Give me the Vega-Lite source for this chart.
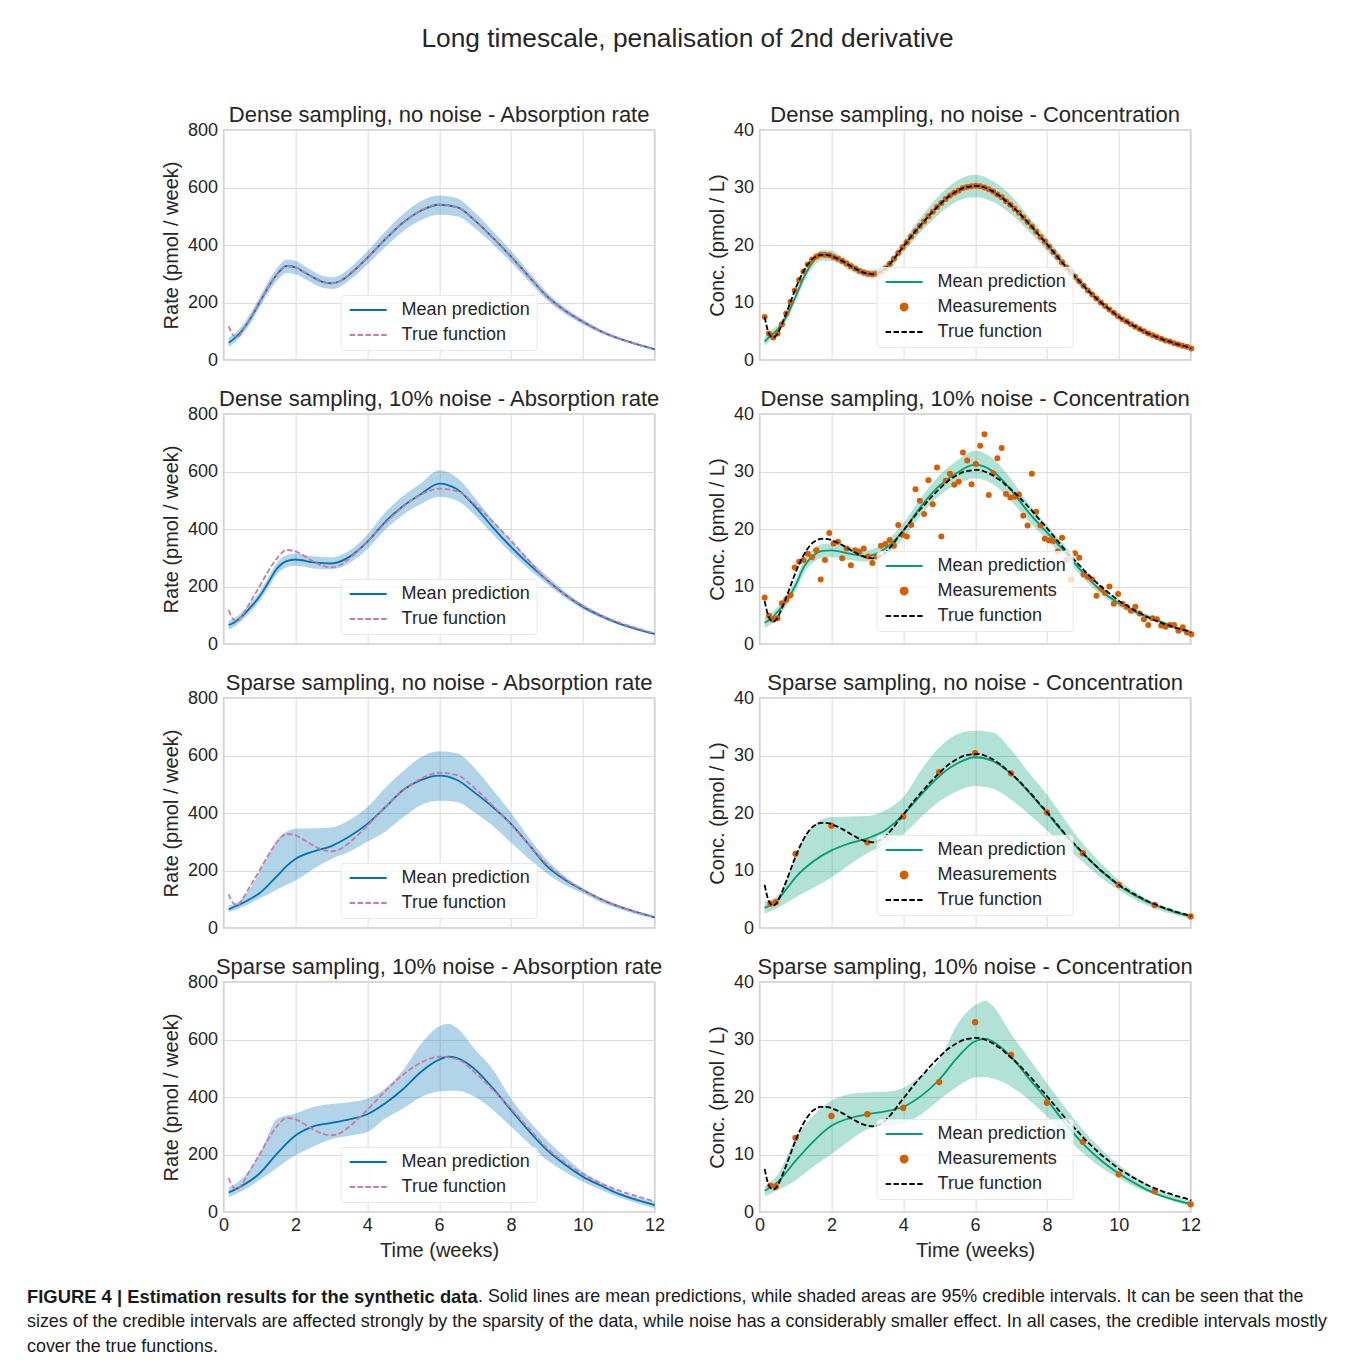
{
  "$schema": "https://vega.github.io/schema/vega-lite/v6.json",
  "padding": {"left": 27, "top": 25, "right": 5, "bottom": 5},
  "title": {"text": "Long timescale, penalisation of 2nd derivative", "fontSize": 26.3, "anchor": "middle", "frame": "bounds", "dx": 5, "offset": 51},
  "datasets": {
    "trueRate": [
      {"t": 0.14, "v": 118}, {"t": 0.2, "v": 100}, {"t": 0.3, "v": 83}, {"t": 0.4, "v": 81}, {"t": 0.5, "v": 96},
      {"t": 0.75, "v": 148}, {"t": 1.0, "v": 200}, {"t": 1.25, "v": 255}, {"t": 1.5, "v": 300}, {"t": 1.75, "v": 327},
      {"t": 2.0, "v": 322}, {"t": 2.25, "v": 305}, {"t": 2.5, "v": 287}, {"t": 2.75, "v": 272}, {"t": 3.0, "v": 267},
      {"t": 3.25, "v": 275}, {"t": 3.5, "v": 297}, {"t": 3.75, "v": 325}, {"t": 4.0, "v": 355}, {"t": 4.5, "v": 420},
      {"t": 5.0, "v": 478}, {"t": 5.5, "v": 520}, {"t": 6.0, "v": 540}, {"t": 6.5, "v": 532}, {"t": 7.0, "v": 485},
      {"t": 7.5, "v": 425}, {"t": 8.0, "v": 360}, {"t": 8.5, "v": 290}, {"t": 9.0, "v": 222}, {"t": 9.5, "v": 172},
      {"t": 10.0, "v": 133}, {"t": 10.5, "v": 100}, {"t": 11.0, "v": 75}, {"t": 11.5, "v": 55}, {"t": 12.0, "v": 37}
    ],
    "rate1": [
      {"t": 0.14, "mean": 60, "lo": 45, "hi": 78}, {"t": 0.3, "mean": 75, "lo": 60, "hi": 92}, {"t": 0.5, "mean": 100, "lo": 85, "hi": 117},
      {"t": 0.75, "mean": 145, "lo": 128, "hi": 163}, {"t": 1.0, "mean": 200, "lo": 182, "hi": 218}, {"t": 1.25, "mean": 255, "lo": 235, "hi": 275},
      {"t": 1.5, "mean": 300, "lo": 278, "hi": 322}, {"t": 1.75, "mean": 327, "lo": 303, "hi": 350}, {"t": 2.0, "mean": 322, "lo": 298, "hi": 345},
      {"t": 2.25, "mean": 305, "lo": 283, "hi": 327}, {"t": 2.5, "mean": 287, "lo": 265, "hi": 308}, {"t": 2.75, "mean": 272, "lo": 251, "hi": 293},
      {"t": 3.0, "mean": 267, "lo": 247, "hi": 288}, {"t": 3.25, "mean": 275, "lo": 255, "hi": 296}, {"t": 3.5, "mean": 297, "lo": 277, "hi": 318},
      {"t": 3.75, "mean": 325, "lo": 303, "hi": 347}, {"t": 4.0, "mean": 355, "lo": 332, "hi": 378}, {"t": 4.5, "mean": 420, "lo": 393, "hi": 447},
      {"t": 5.0, "mean": 478, "lo": 448, "hi": 508}, {"t": 5.5, "mean": 520, "lo": 487, "hi": 553}, {"t": 6.0, "mean": 540, "lo": 505, "hi": 572},
      {"t": 6.5, "mean": 532, "lo": 500, "hi": 563}, {"t": 7.0, "mean": 485, "lo": 458, "hi": 512}, {"t": 7.5, "mean": 425, "lo": 402, "hi": 448},
      {"t": 8.0, "mean": 360, "lo": 340, "hi": 380}, {"t": 8.5, "mean": 290, "lo": 273, "hi": 307}, {"t": 9.0, "mean": 222, "lo": 208, "hi": 236},
      {"t": 9.5, "mean": 172, "lo": 161, "hi": 183}, {"t": 10.0, "mean": 133, "lo": 124, "hi": 142}, {"t": 10.5, "mean": 100, "lo": 93, "hi": 107},
      {"t": 11.0, "mean": 75, "lo": 70, "hi": 80}, {"t": 11.5, "mean": 55, "lo": 51, "hi": 59}, {"t": 12.0, "mean": 37, "lo": 34, "hi": 40}
    ],
    "rate2": [
      {"t": 0.14, "mean": 66, "lo": 50, "hi": 82}, {"t": 0.3, "mean": 75, "lo": 60, "hi": 90}, {"t": 0.5, "mean": 95, "lo": 80, "hi": 110},
      {"t": 0.75, "mean": 128, "lo": 112, "hi": 144}, {"t": 1.0, "mean": 165, "lo": 148, "hi": 182}, {"t": 1.25, "mean": 215, "lo": 197, "hi": 233},
      {"t": 1.5, "mean": 265, "lo": 245, "hi": 285}, {"t": 1.75, "mean": 288, "lo": 267, "hi": 309}, {"t": 2.0, "mean": 294, "lo": 272, "hi": 315},
      {"t": 2.5, "mean": 284, "lo": 263, "hi": 305}, {"t": 3.0, "mean": 280, "lo": 260, "hi": 301}, {"t": 3.5, "mean": 303, "lo": 282, "hi": 325},
      {"t": 4.0, "mean": 355, "lo": 330, "hi": 380}, {"t": 4.5, "mean": 425, "lo": 397, "hi": 458}, {"t": 5.0, "mean": 480, "lo": 450, "hi": 515},
      {"t": 5.5, "mean": 522, "lo": 487, "hi": 560}, {"t": 6.0, "mean": 558, "lo": 512, "hi": 604}, {"t": 6.5, "mean": 538, "lo": 498, "hi": 578},
      {"t": 7.0, "mean": 478, "lo": 448, "hi": 508}, {"t": 7.5, "mean": 405, "lo": 380, "hi": 430}, {"t": 8.0, "mean": 338, "lo": 317, "hi": 359},
      {"t": 8.5, "mean": 278, "lo": 260, "hi": 296}, {"t": 9.0, "mean": 223, "lo": 209, "hi": 237}, {"t": 9.5, "mean": 172, "lo": 161, "hi": 183},
      {"t": 10.0, "mean": 130, "lo": 121, "hi": 139}, {"t": 10.5, "mean": 98, "lo": 91, "hi": 105}, {"t": 11.0, "mean": 72, "lo": 67, "hi": 77},
      {"t": 11.5, "mean": 52, "lo": 48, "hi": 56}, {"t": 12.0, "mean": 35, "lo": 32, "hi": 38}
    ],
    "rate3": [
      {"t": 0.14, "mean": 65, "lo": 55, "hi": 78}, {"t": 0.5, "mean": 85, "lo": 72, "hi": 100}, {"t": 0.75, "mean": 102, "lo": 86, "hi": 140},
      {"t": 1.0, "mean": 121, "lo": 103, "hi": 195}, {"t": 1.25, "mean": 150, "lo": 118, "hi": 255}, {"t": 1.5, "mean": 182, "lo": 135, "hi": 310},
      {"t": 1.75, "mean": 215, "lo": 150, "hi": 335}, {"t": 2.0, "mean": 240, "lo": 165, "hi": 345}, {"t": 2.5, "mean": 266, "lo": 205, "hi": 347},
      {"t": 3.0, "mean": 285, "lo": 240, "hi": 350}, {"t": 3.5, "mean": 318, "lo": 265, "hi": 376}, {"t": 4.0, "mean": 362, "lo": 300, "hi": 420},
      {"t": 4.5, "mean": 420, "lo": 335, "hi": 488}, {"t": 5.0, "mean": 480, "lo": 385, "hi": 545}, {"t": 5.5, "mean": 515, "lo": 428, "hi": 595},
      {"t": 6.0, "mean": 530, "lo": 443, "hi": 615}, {"t": 6.5, "mean": 515, "lo": 438, "hi": 608}, {"t": 7.0, "mean": 470, "lo": 400, "hi": 555},
      {"t": 7.5, "mean": 420, "lo": 355, "hi": 480}, {"t": 8.0, "mean": 362, "lo": 297, "hi": 402}, {"t": 8.5, "mean": 290, "lo": 240, "hi": 315},
      {"t": 9.0, "mean": 215, "lo": 190, "hi": 237}, {"t": 9.5, "mean": 168, "lo": 150, "hi": 180}, {"t": 10.0, "mean": 132, "lo": 121, "hi": 138},
      {"t": 10.5, "mean": 100, "lo": 90, "hi": 106}, {"t": 11.0, "mean": 75, "lo": 67, "hi": 80}, {"t": 11.5, "mean": 55, "lo": 48, "hi": 59},
      {"t": 12.0, "mean": 37, "lo": 33, "hi": 42}
    ],
    "rate4": [
      {"t": 0.14, "mean": 68, "lo": 52, "hi": 86}, {"t": 0.5, "mean": 90, "lo": 72, "hi": 115}, {"t": 1.0, "mean": 134, "lo": 111, "hi": 200},
      {"t": 1.5, "mean": 205, "lo": 155, "hi": 325}, {"t": 2.0, "mean": 266, "lo": 197, "hi": 343}, {"t": 2.5, "mean": 298, "lo": 228, "hi": 365},
      {"t": 3.0, "mean": 310, "lo": 253, "hi": 376}, {"t": 3.5, "mean": 322, "lo": 265, "hi": 382}, {"t": 4.0, "mean": 340, "lo": 278, "hi": 395},
      {"t": 4.5, "mean": 378, "lo": 325, "hi": 430}, {"t": 5.0, "mean": 428, "lo": 360, "hi": 494}, {"t": 5.5, "mean": 488, "lo": 400, "hi": 585},
      {"t": 6.0, "mean": 530, "lo": 419, "hi": 645}, {"t": 6.25, "mean": 540, "lo": 422, "hi": 655}, {"t": 6.5, "mean": 535, "lo": 422, "hi": 640},
      {"t": 7.0, "mean": 496, "lo": 400, "hi": 565}, {"t": 7.5, "mean": 430, "lo": 355, "hi": 495}, {"t": 8.0, "mean": 355, "lo": 297, "hi": 395},
      {"t": 8.5, "mean": 282, "lo": 238, "hi": 318}, {"t": 9.0, "mean": 216, "lo": 181, "hi": 250}, {"t": 9.5, "mean": 165, "lo": 140, "hi": 193},
      {"t": 10.0, "mean": 123, "lo": 105, "hi": 140}, {"t": 10.5, "mean": 92, "lo": 77, "hi": 104}, {"t": 11.0, "mean": 63, "lo": 51, "hi": 72},
      {"t": 11.5, "mean": 42, "lo": 31, "hi": 52}, {"t": 12.0, "mean": 24, "lo": 13, "hi": 36}
    ],
    "conc1": [
      {"t": 0.14, "mean": 3.2, "lo": 2.5, "hi": 4.0}, {"t": 0.3, "mean": 4.2, "lo": 3.4, "hi": 5.0}, {"t": 0.5, "mean": 5.3, "lo": 4.5, "hi": 6.1},
      {"t": 0.75, "mean": 7.6, "lo": 6.8, "hi": 8.4}, {"t": 1.0, "mean": 11.0, "lo": 10.2, "hi": 11.8}, {"t": 1.25, "mean": 14.6, "lo": 13.8, "hi": 15.4},
      {"t": 1.5, "mean": 17.2, "lo": 16.3, "hi": 18.1}, {"t": 1.75, "mean": 18.2, "lo": 17.3, "hi": 19.1}, {"t": 2.0, "mean": 18.1, "lo": 17.2, "hi": 19.0},
      {"t": 2.25, "mean": 17.4, "lo": 16.6, "hi": 18.2}, {"t": 2.5, "mean": 16.4, "lo": 15.6, "hi": 17.2}, {"t": 2.75, "mean": 15.6, "lo": 14.9, "hi": 16.3},
      {"t": 3.0, "mean": 15.0, "lo": 14.3, "hi": 15.7}, {"t": 3.25, "mean": 15.1, "lo": 14.4, "hi": 15.8}, {"t": 3.5, "mean": 15.9, "lo": 15.1, "hi": 16.7},
      {"t": 3.75, "mean": 17.6, "lo": 16.7, "hi": 18.5}, {"t": 4.0, "mean": 19.7, "lo": 18.7, "hi": 20.7}, {"t": 4.5, "mean": 23.6, "lo": 22.3, "hi": 24.9},
      {"t": 5.0, "mean": 27.0, "lo": 25.4, "hi": 28.6}, {"t": 5.5, "mean": 29.4, "lo": 27.6, "hi": 31.2}, {"t": 6.0, "mean": 30.3, "lo": 28.3, "hi": 32.2},
      {"t": 6.5, "mean": 29.3, "lo": 27.5, "hi": 31.1}, {"t": 7.0, "mean": 27.0, "lo": 25.4, "hi": 28.6}, {"t": 7.5, "mean": 23.6, "lo": 22.3, "hi": 24.9},
      {"t": 8.0, "mean": 20.1, "lo": 19.0, "hi": 21.2}, {"t": 8.5, "mean": 16.4, "lo": 15.5, "hi": 17.3}, {"t": 9.0, "mean": 13.0, "lo": 12.3, "hi": 13.7},
      {"t": 9.5, "mean": 10.0, "lo": 9.5, "hi": 10.5}, {"t": 10.0, "mean": 7.4, "lo": 7.0, "hi": 7.8}, {"t": 10.5, "mean": 5.5, "lo": 5.2, "hi": 5.8},
      {"t": 11.0, "mean": 4.0, "lo": 3.7, "hi": 4.3}, {"t": 11.5, "mean": 2.9, "lo": 2.7, "hi": 3.1}, {"t": 12.0, "mean": 2.0, "lo": 1.8, "hi": 2.2}
    ],
    "conc2": [
      {"t": 0.14, "mean": 3.7, "lo": 2.8, "hi": 4.7}, {"t": 0.3, "mean": 4.3, "lo": 3.4, "hi": 5.2}, {"t": 0.5, "mean": 5.6, "lo": 4.7, "hi": 6.5},
      {"t": 0.75, "mean": 7.5, "lo": 6.6, "hi": 8.4}, {"t": 1.0, "mean": 10.2, "lo": 9.2, "hi": 11.2}, {"t": 1.25, "mean": 13.6, "lo": 12.5, "hi": 14.7},
      {"t": 1.5, "mean": 15.4, "lo": 14.2, "hi": 16.6}, {"t": 1.75, "mean": 16.2, "lo": 15.0, "hi": 17.4}, {"t": 2.0, "mean": 16.3, "lo": 15.1, "hi": 17.5},
      {"t": 2.5, "mean": 15.7, "lo": 14.6, "hi": 16.9}, {"t": 3.0, "mean": 15.3, "lo": 14.3, "hi": 16.4}, {"t": 3.5, "mean": 16.6, "lo": 15.5, "hi": 17.8},
      {"t": 4.0, "mean": 19.7, "lo": 18.4, "hi": 21.0}, {"t": 4.5, "mean": 24.0, "lo": 22.5, "hi": 25.5}, {"t": 5.0, "mean": 27.5, "lo": 25.8, "hi": 29.3},
      {"t": 5.5, "mean": 29.8, "lo": 27.8, "hi": 31.9}, {"t": 6.0, "mean": 31.2, "lo": 28.8, "hi": 33.6}, {"t": 6.5, "mean": 30.0, "lo": 27.8, "hi": 32.2},
      {"t": 7.0, "mean": 26.8, "lo": 24.9, "hi": 28.7}, {"t": 7.5, "mean": 22.8, "lo": 21.3, "hi": 24.3}, {"t": 8.0, "mean": 19.4, "lo": 18.1, "hi": 20.7},
      {"t": 8.5, "mean": 16.0, "lo": 14.9, "hi": 17.1}, {"t": 9.0, "mean": 12.4, "lo": 11.5, "hi": 13.3}, {"t": 9.5, "mean": 9.3, "lo": 8.6, "hi": 10.0},
      {"t": 10.0, "mean": 7.1, "lo": 6.5, "hi": 7.7}, {"t": 10.5, "mean": 5.5, "lo": 5.0, "hi": 6.0}, {"t": 11.0, "mean": 4.3, "lo": 3.9, "hi": 4.7},
      {"t": 11.5, "mean": 3.0, "lo": 2.6, "hi": 3.4}, {"t": 12.0, "mean": 1.9, "lo": 1.5, "hi": 2.3}
    ],
    "conc3": [
      {"t": 0.14, "mean": 3.5, "lo": 2.5, "hi": 4.6}, {"t": 0.5, "mean": 4.9, "lo": 3.5, "hi": 5.6}, {"t": 0.75, "mean": 6.8, "lo": 4.4, "hi": 8.5},
      {"t": 1.0, "mean": 8.8, "lo": 5.3, "hi": 12.5}, {"t": 1.5, "mean": 11.6, "lo": 7.0, "hi": 17.8}, {"t": 2.0, "mean": 13.5, "lo": 8.8, "hi": 19.3},
      {"t": 2.5, "mean": 14.7, "lo": 11.0, "hi": 19.4}, {"t": 3.0, "mean": 15.6, "lo": 13.0, "hi": 19.5}, {"t": 3.5, "mean": 17.0, "lo": 14.5, "hi": 20.5},
      {"t": 4.0, "mean": 19.7, "lo": 16.3, "hi": 22.8}, {"t": 4.5, "mean": 23.2, "lo": 19.3, "hi": 27.5}, {"t": 5.0, "mean": 26.4, "lo": 22.0, "hi": 31.4},
      {"t": 5.5, "mean": 28.6, "lo": 23.8, "hi": 33.7}, {"t": 6.0, "mean": 29.7, "lo": 24.7, "hi": 34.3}, {"t": 6.5, "mean": 29.0, "lo": 24.2, "hi": 34.0},
      {"t": 7.0, "mean": 26.8, "lo": 22.3, "hi": 31.0}, {"t": 7.5, "mean": 23.6, "lo": 19.8, "hi": 27.0}, {"t": 8.0, "mean": 20.0, "lo": 17.0, "hi": 23.2},
      {"t": 8.5, "mean": 16.3, "lo": 14.1, "hi": 18.8}, {"t": 9.0, "mean": 13.0, "lo": 11.5, "hi": 14.7}, {"t": 9.5, "mean": 10.0, "lo": 8.8, "hi": 11.3},
      {"t": 10.0, "mean": 7.4, "lo": 6.6, "hi": 8.3}, {"t": 10.5, "mean": 5.5, "lo": 4.8, "hi": 6.1}, {"t": 11.0, "mean": 4.0, "lo": 3.4, "hi": 4.4},
      {"t": 11.5, "mean": 2.9, "lo": 2.4, "hi": 3.3}, {"t": 12.0, "mean": 2.0, "lo": 1.7, "hi": 2.3}
    ],
    "conc4": [
      {"t": 0.14, "mean": 3.7, "lo": 2.7, "hi": 4.4}, {"t": 0.5, "mean": 5.2, "lo": 3.8, "hi": 6.5}, {"t": 1.0, "mean": 8.9, "lo": 5.5, "hi": 12.8},
      {"t": 1.5, "mean": 12.3, "lo": 7.9, "hi": 16.8}, {"t": 2.0, "mean": 15.0, "lo": 10.1, "hi": 19.4}, {"t": 2.5, "mean": 16.3, "lo": 12.4, "hi": 20.5},
      {"t": 3.0, "mean": 17.0, "lo": 14.4, "hi": 20.8}, {"t": 3.5, "mean": 17.5, "lo": 15.0, "hi": 20.9}, {"t": 4.0, "mean": 18.3, "lo": 15.4, "hi": 21.6},
      {"t": 4.5, "mean": 20.2, "lo": 17.0, "hi": 23.8}, {"t": 5.0, "mean": 23.0, "lo": 19.5, "hi": 26.4}, {"t": 5.5, "mean": 26.8, "lo": 21.8, "hi": 32.6},
      {"t": 6.0, "mean": 29.7, "lo": 23.4, "hi": 36.0}, {"t": 6.3, "mean": 30.1, "lo": 23.5, "hi": 36.7}, {"t": 6.5, "mean": 29.6, "lo": 23.2, "hi": 35.8},
      {"t": 7.0, "mean": 27.0, "lo": 21.8, "hi": 31.0}, {"t": 7.5, "mean": 23.2, "lo": 19.5, "hi": 26.7}, {"t": 8.0, "mean": 19.5, "lo": 16.6, "hi": 22.4},
      {"t": 8.5, "mean": 15.5, "lo": 13.3, "hi": 18.2}, {"t": 9.0, "mean": 11.9, "lo": 10.2, "hi": 14.3}, {"t": 9.5, "mean": 9.0, "lo": 7.8, "hi": 11.0},
      {"t": 10.0, "mean": 6.7, "lo": 5.9, "hi": 8.2}, {"t": 10.5, "mean": 4.8, "lo": 4.2, "hi": 5.9}, {"t": 11.0, "mean": 3.25, "lo": 3.0, "hi": 4.1},
      {"t": 11.5, "mean": 2.2, "lo": 1.9, "hi": 2.9}, {"t": 12.0, "mean": 1.4, "lo": 1.0, "hi": 2.0}
    ],
    "sparse": [
      {"t": 0.3, "clean": 4.2, "noisy": 4.6}, {"t": 0.45, "clean": 4.5, "noisy": 4.4}, {"t": 1, "clean": 12.9, "noisy": 12.9},
      {"t": 2, "clean": 17.8, "noisy": 16.7}, {"t": 3, "clean": 14.9, "noisy": 17.0}, {"t": 4, "clean": 19.4, "noisy": 18.1},
      {"t": 5, "clean": 27.1, "noisy": 22.6}, {"t": 6, "clean": 30.4, "noisy": 33.0}, {"t": 7, "clean": 26.9, "noisy": 27.3},
      {"t": 8, "clean": 20.1, "noisy": 19.0}, {"t": 9, "clean": 13.0, "noisy": 12.2}, {"t": 10, "clean": 7.5, "noisy": 6.55},
      {"t": 11, "clean": 4.0, "noisy": 3.65}, {"t": 12, "clean": 2.0, "noisy": 1.33}
    ],
    "dense": [
      {"t": 0.14, "truth": 7.5, "noisy": 8.1}, {"t": 0.26, "truth": 4.6, "noisy": 4.9}, {"t": 0.38, "truth": 3.9, "noisy": 4.2}, {"t": 0.50, "truth": 4.6, "noisy": 4.5},
      {"t": 0.62, "truth": 6.2, "noisy": 7.1}, {"t": 0.74, "truth": 8.1, "noisy": 7.7}, {"t": 0.86, "truth": 10.1, "noisy": 8.5}, {"t": 0.98, "truth": 12.1, "noisy": 13.3},
      {"t": 1.10, "truth": 13.9, "noisy": 14.3}, {"t": 1.22, "truth": 15.4, "noisy": 14.6}, {"t": 1.34, "truth": 16.6, "noisy": 15.7}, {"t": 1.46, "truth": 17.5, "noisy": 15.1},
      {"t": 1.58, "truth": 18.0, "noisy": 16.3}, {"t": 1.70, "truth": 18.3, "noisy": 11.2}, {"t": 1.82, "truth": 18.3, "noisy": 14.6}, {"t": 1.94, "truth": 18.2, "noisy": 19.3},
      {"t": 2.06, "truth": 17.9, "noisy": 17.5}, {"t": 2.18, "truth": 17.6, "noisy": 17.8}, {"t": 2.30, "truth": 17.2, "noisy": 14.9}, {"t": 2.42, "truth": 16.8, "noisy": 16.6},
      {"t": 2.54, "truth": 16.3, "noisy": 13.7}, {"t": 2.66, "truth": 15.9, "noisy": 16.3}, {"t": 2.78, "truth": 15.5, "noisy": 16.1}, {"t": 2.90, "truth": 15.2, "noisy": 16.6},
      {"t": 3.02, "truth": 15.0, "noisy": 15.2}, {"t": 3.14, "truth": 14.9, "noisy": 14.1}, {"t": 3.26, "truth": 15.0, "noisy": 15.2}, {"t": 3.38, "truth": 15.4, "noisy": 17.1},
      {"t": 3.50, "truth": 15.9, "noisy": 17.4}, {"t": 3.62, "truth": 16.7, "noisy": 18.1}, {"t": 3.74, "truth": 17.6, "noisy": 17.1}, {"t": 3.86, "truth": 18.6, "noisy": 20.7},
      {"t": 3.98, "truth": 19.6, "noisy": 19.0}, {"t": 4.10, "truth": 20.5, "noisy": 18.7}, {"t": 4.22, "truth": 21.5, "noisy": 20.7}, {"t": 4.34, "truth": 22.4, "noisy": 26.9},
      {"t": 4.46, "truth": 23.3, "noisy": 24.9}, {"t": 4.58, "truth": 24.1, "noisy": 22.6}, {"t": 4.70, "truth": 25.0, "noisy": 28.5}, {"t": 4.82, "truth": 25.8, "noisy": 24.3},
      {"t": 4.94, "truth": 26.6, "noisy": 30.7}, {"t": 5.06, "truth": 27.3, "noisy": 18.7}, {"t": 5.18, "truth": 28.0, "noisy": 28.4}, {"t": 5.30, "truth": 28.6, "noisy": 29.6},
      {"t": 5.42, "truth": 29.1, "noisy": 27.7}, {"t": 5.54, "truth": 29.5, "noisy": 28.2}, {"t": 5.66, "truth": 29.9, "noisy": 33.3}, {"t": 5.78, "truth": 30.1, "noisy": 31.9},
      {"t": 5.90, "truth": 30.2, "noisy": 27.8}, {"t": 6.02, "truth": 30.3, "noisy": 31.3}, {"t": 6.14, "truth": 30.2, "noisy": 34.5}, {"t": 6.26, "truth": 30.0, "noisy": 36.5},
      {"t": 6.38, "truth": 29.7, "noisy": 25.9}, {"t": 6.50, "truth": 29.3, "noisy": 29.7}, {"t": 6.62, "truth": 28.8, "noisy": 32.3}, {"t": 6.74, "truth": 28.3, "noisy": 34.1},
      {"t": 6.86, "truth": 27.6, "noisy": 26.1}, {"t": 6.98, "truth": 27.0, "noisy": 25.5}, {"t": 7.10, "truth": 26.3, "noisy": 25.6}, {"t": 7.22, "truth": 25.6, "noisy": 26.0},
      {"t": 7.34, "truth": 24.8, "noisy": 22.3}, {"t": 7.46, "truth": 24.0, "noisy": 20.6}, {"t": 7.58, "truth": 23.2, "noisy": 29.6}, {"t": 7.70, "truth": 22.3, "noisy": 23.0},
      {"t": 7.82, "truth": 21.4, "noisy": 20.6}, {"t": 7.94, "truth": 20.6, "noisy": 18.3}, {"t": 8.06, "truth": 19.7, "noisy": 18.0}, {"t": 8.18, "truth": 18.8, "noisy": 17.9},
      {"t": 8.30, "truth": 17.9, "noisy": 16.1}, {"t": 8.42, "truth": 17.0, "noisy": 18.5}, {"t": 8.54, "truth": 16.1, "noisy": 14.6}, {"t": 8.66, "truth": 15.3, "noisy": 11.2},
      {"t": 8.78, "truth": 14.5, "noisy": 15.8}, {"t": 8.90, "truth": 13.7, "noisy": 15.0}, {"t": 9.02, "truth": 12.9, "noisy": 12.1}, {"t": 9.14, "truth": 12.1, "noisy": 11.7},
      {"t": 9.26, "truth": 11.4, "noisy": 11.2}, {"t": 9.38, "truth": 10.7, "noisy": 8.4}, {"t": 9.50, "truth": 10.0, "noisy": 9.7}, {"t": 9.62, "truth": 9.4, "noisy": 8.9},
      {"t": 9.74, "truth": 8.8, "noisy": 10.0}, {"t": 9.86, "truth": 8.2, "noisy": 7.0}, {"t": 9.98, "truth": 7.6, "noisy": 8.7}, {"t": 10.10, "truth": 7.1, "noisy": 7.0},
      {"t": 10.22, "truth": 6.7, "noisy": 6.5}, {"t": 10.34, "truth": 6.2, "noisy": 5.8}, {"t": 10.46, "truth": 5.8, "noisy": 6.5}, {"t": 10.58, "truth": 5.4, "noisy": 5.3},
      {"t": 10.70, "truth": 5.0, "noisy": 4.3}, {"t": 10.82, "truth": 4.6, "noisy": 3.3}, {"t": 10.94, "truth": 4.3, "noisy": 4.5}, {"t": 11.06, "truth": 4.0, "noisy": 4.3},
      {"t": 11.18, "truth": 3.7, "noisy": 3.2}, {"t": 11.30, "truth": 3.4, "noisy": 3.0}, {"t": 11.42, "truth": 3.2, "noisy": 3.3}, {"t": 11.54, "truth": 2.9, "noisy": 3.3},
      {"t": 11.66, "truth": 2.7, "noisy": 2.3}, {"t": 11.78, "truth": 2.5, "noisy": 2.9}, {"t": 11.90, "truth": 2.3, "noisy": 2.0}, {"t": 12.02, "truth": 2.0, "noisy": 1.7}
    ]
  },
  "vconcat": [
    {
      "columns": 2,
      "spacing": {"row": 54, "column": 105},
      "bounds": "flush",
      "resolve": {"scale": {"x": "independent", "y": "independent", "color": "independent"}, "legend": {"color": "independent"}, "axis": {"x": "independent", "y": "independent"}},
      "concat": [
        {
          "width": 431, "height": 230,
          "title": {"text": "Dense sampling, no noise - Absorption rate", "anchor": "middle", "frame": "group", "offset": -6},
          "encoding": {"x": {"field": "t", "type": "quantitative", "scale": {"domain": [0, 12], "nice": false}, "axis": {"values": [0, 2, 4, 6, 8, 10, 12], "labels": false, "title": null}}},
          "layer": [
            {"data": {"name": "rate1"}, "mark": {"type": "area", "color": "#0072B2", "opacity": 0.3, "interpolate": "monotone"},
             "encoding": {"y": {"field": "lo", "type": "quantitative", "title": "Rate (pmol / week)", "scale": {"domain": [0, 800], "nice": false}, "axis": {"values": [0, 200, 400, 600, 800]}}, "y2": {"field": "hi"}}},
            {"data": {"name": "rate1"}, "mark": {"type": "line", "strokeWidth": 1.8, "interpolate": "monotone"},
             "encoding": {"y": {"field": "mean", "type": "quantitative", "title": "Rate (pmol / week)"},
               "color": {"datum": "Mean prediction", "scale": {"domain": ["Mean prediction", "True function"], "range": ["#0072B2", "#CC79A7"]},
                 "legend": {"title": null, "orient": "none", "legendX": 117, "legendY": 165, "symbolSize": 100, "labelOffset": 37,
                   "encode": {"symbols": {"update": {"shape": {"value": "M-1.2,0L6.2,0"}, "size": {"value": 100}, "fill": {"value": "transparent"},
                     "stroke": {"signal": "datum.value === 'Mean prediction' ? '#0072B2' : '#CC79A7'"},
                     "strokeDash": {"signal": "datum.value === 'True function' ? [5.5, 2.4] : [1, 0]"},
                     "strokeWidth": {"value": 1.8}, "opacity": {"value": 1}}}}}}}},
            {"data": {"name": "trueRate"}, "mark": {"type": "line", "strokeWidth": 1.8, "strokeDash": [5.5, 2.4], "interpolate": "monotone"},
             "encoding": {"y": {"field": "v", "type": "quantitative", "title": "Rate (pmol / week)"}, "color": {"datum": "True function"}}}
          ]
        },
        {
          "width": 431, "height": 230,
          "title": {"text": "Dense sampling, no noise - Concentration", "anchor": "middle", "frame": "group", "offset": -6},
          "encoding": {"x": {"field": "t", "type": "quantitative", "scale": {"domain": [0, 12], "nice": false}, "axis": {"values": [0, 2, 4, 6, 8, 10, 12], "labels": false, "title": null}}},
          "layer": [
            {"data": {"name": "conc1"}, "mark": {"type": "area", "color": "#009E73", "opacity": 0.3, "interpolate": "monotone"},
             "encoding": {"y": {"field": "lo", "type": "quantitative", "title": "Conc. (pmol / L)", "scale": {"domain": [0, 40], "nice": false}, "axis": {"values": [0, 10, 20, 30, 40]}}, "y2": {"field": "hi"}}},
            {"data": {"name": "conc1"}, "mark": {"type": "line", "strokeWidth": 1.8, "interpolate": "monotone"},
             "encoding": {"y": {"field": "mean", "type": "quantitative", "title": "Conc. (pmol / L)"},
               "color": {"datum": "Mean prediction", "scale": {"domain": ["Mean prediction", "Measurements", "True function"], "range": ["#009E73", "#D55E00", "#000000"]},
                 "legend": {"title": null, "orient": "none", "legendX": 117, "legendY": 137, "symbolSize": 100, "labelOffset": 37,
                   "encode": {"symbols": {"update": {
                     "shape": {"signal": "datum.value === 'Measurements' ? 'M1.8,0A0.7,0.7 0 1,1 3.2,0A0.7,0.7 0 1,1 1.8,0Z' : 'M-1.2,0L6.2,0'"},
                     "size": {"value": 100},
                     "fill": {"signal": "datum.value === 'Measurements' ? '#D55E00' : 'transparent'"},
                     "stroke": {"signal": "datum.value === 'Mean prediction' ? '#009E73' : datum.value === 'True function' ? '#000000' : 'transparent'"},
                     "strokeDash": {"signal": "datum.value === 'True function' ? [5.5, 2.4] : [1, 0]"},
                     "strokeWidth": {"value": 1.8}, "opacity": {"value": 1}}}}}}}},
            {"data": {"name": "dense"}, "mark": {"type": "point", "filled": true, "size": 36, "opacity": 1},
             "encoding": {"y": {"field": "truth", "type": "quantitative", "title": "Conc. (pmol / L)"}, "color": {"datum": "Measurements"}}},
            {"data": {"name": "dense"}, "mark": {"type": "line", "strokeWidth": 1.8, "strokeDash": [5.5, 2.4], "interpolate": "monotone"},
             "encoding": {"y": {"field": "truth", "type": "quantitative", "title": "Conc. (pmol / L)"}, "color": {"datum": "True function"}}}
          ]
        },
        {
          "width": 431, "height": 230,
          "title": {"text": "Dense sampling, 10% noise - Absorption rate", "anchor": "middle", "frame": "group", "offset": -6},
          "encoding": {"x": {"field": "t", "type": "quantitative", "scale": {"domain": [0, 12], "nice": false}, "axis": {"values": [0, 2, 4, 6, 8, 10, 12], "labels": false, "title": null}}},
          "layer": [
            {"data": {"name": "rate2"}, "mark": {"type": "area", "color": "#0072B2", "opacity": 0.3, "interpolate": "monotone"},
             "encoding": {"y": {"field": "lo", "type": "quantitative", "title": "Rate (pmol / week)", "scale": {"domain": [0, 800], "nice": false}, "axis": {"values": [0, 200, 400, 600, 800]}}, "y2": {"field": "hi"}}},
            {"data": {"name": "rate2"}, "mark": {"type": "line", "strokeWidth": 1.8, "interpolate": "monotone"},
             "encoding": {"y": {"field": "mean", "type": "quantitative", "title": "Rate (pmol / week)"},
               "color": {"datum": "Mean prediction", "scale": {"domain": ["Mean prediction", "True function"], "range": ["#0072B2", "#CC79A7"]},
                 "legend": {"title": null, "orient": "none", "legendX": 117, "legendY": 165, "symbolSize": 100, "labelOffset": 37,
                   "encode": {"symbols": {"update": {"shape": {"value": "M-1.2,0L6.2,0"}, "size": {"value": 100}, "fill": {"value": "transparent"},
                     "stroke": {"signal": "datum.value === 'Mean prediction' ? '#0072B2' : '#CC79A7'"},
                     "strokeDash": {"signal": "datum.value === 'True function' ? [5.5, 2.4] : [1, 0]"},
                     "strokeWidth": {"value": 1.8}, "opacity": {"value": 1}}}}}}}},
            {"data": {"name": "trueRate"}, "mark": {"type": "line", "strokeWidth": 1.8, "strokeDash": [5.5, 2.4], "interpolate": "monotone"},
             "encoding": {"y": {"field": "v", "type": "quantitative", "title": "Rate (pmol / week)"}, "color": {"datum": "True function"}}}
          ]
        },
        {
          "width": 431, "height": 230,
          "title": {"text": "Dense sampling, 10% noise - Concentration", "anchor": "middle", "frame": "group", "offset": -6},
          "encoding": {"x": {"field": "t", "type": "quantitative", "scale": {"domain": [0, 12], "nice": false}, "axis": {"values": [0, 2, 4, 6, 8, 10, 12], "labels": false, "title": null}}},
          "layer": [
            {"data": {"name": "conc2"}, "mark": {"type": "area", "color": "#009E73", "opacity": 0.3, "interpolate": "monotone"},
             "encoding": {"y": {"field": "lo", "type": "quantitative", "title": "Conc. (pmol / L)", "scale": {"domain": [0, 40], "nice": false}, "axis": {"values": [0, 10, 20, 30, 40]}}, "y2": {"field": "hi"}}},
            {"data": {"name": "conc2"}, "mark": {"type": "line", "strokeWidth": 1.8, "interpolate": "monotone"},
             "encoding": {"y": {"field": "mean", "type": "quantitative", "title": "Conc. (pmol / L)"},
               "color": {"datum": "Mean prediction", "scale": {"domain": ["Mean prediction", "Measurements", "True function"], "range": ["#009E73", "#D55E00", "#000000"]},
                 "legend": {"title": null, "orient": "none", "legendX": 117, "legendY": 137, "symbolSize": 100, "labelOffset": 37,
                   "encode": {"symbols": {"update": {
                     "shape": {"signal": "datum.value === 'Measurements' ? 'M1.8,0A0.7,0.7 0 1,1 3.2,0A0.7,0.7 0 1,1 1.8,0Z' : 'M-1.2,0L6.2,0'"},
                     "size": {"value": 100},
                     "fill": {"signal": "datum.value === 'Measurements' ? '#D55E00' : 'transparent'"},
                     "stroke": {"signal": "datum.value === 'Mean prediction' ? '#009E73' : datum.value === 'True function' ? '#000000' : 'transparent'"},
                     "strokeDash": {"signal": "datum.value === 'True function' ? [5.5, 2.4] : [1, 0]"},
                     "strokeWidth": {"value": 1.8}, "opacity": {"value": 1}}}}}}}},
            {"data": {"name": "dense"}, "mark": {"type": "point", "filled": true, "size": 36, "opacity": 1},
             "encoding": {"y": {"field": "noisy", "type": "quantitative", "title": "Conc. (pmol / L)"}, "color": {"datum": "Measurements"}}},
            {"data": {"name": "dense"}, "mark": {"type": "line", "strokeWidth": 1.8, "strokeDash": [5.5, 2.4], "interpolate": "monotone"},
             "encoding": {"y": {"field": "truth", "type": "quantitative", "title": "Conc. (pmol / L)"}, "color": {"datum": "True function"}}}
          ]
        },
        {
          "width": 431, "height": 230,
          "title": {"text": "Sparse sampling, no noise - Absorption rate", "anchor": "middle", "frame": "group", "offset": -6},
          "encoding": {"x": {"field": "t", "type": "quantitative", "scale": {"domain": [0, 12], "nice": false}, "axis": {"values": [0, 2, 4, 6, 8, 10, 12], "labels": false, "title": null}}},
          "layer": [
            {"data": {"name": "rate3"}, "mark": {"type": "area", "color": "#0072B2", "opacity": 0.3, "interpolate": "monotone"},
             "encoding": {"y": {"field": "lo", "type": "quantitative", "title": "Rate (pmol / week)", "scale": {"domain": [0, 800], "nice": false}, "axis": {"values": [0, 200, 400, 600, 800]}}, "y2": {"field": "hi"}}},
            {"data": {"name": "rate3"}, "mark": {"type": "line", "strokeWidth": 1.8, "interpolate": "monotone"},
             "encoding": {"y": {"field": "mean", "type": "quantitative", "title": "Rate (pmol / week)"},
               "color": {"datum": "Mean prediction", "scale": {"domain": ["Mean prediction", "True function"], "range": ["#0072B2", "#CC79A7"]},
                 "legend": {"title": null, "orient": "none", "legendX": 117, "legendY": 165, "symbolSize": 100, "labelOffset": 37,
                   "encode": {"symbols": {"update": {"shape": {"value": "M-1.2,0L6.2,0"}, "size": {"value": 100}, "fill": {"value": "transparent"},
                     "stroke": {"signal": "datum.value === 'Mean prediction' ? '#0072B2' : '#CC79A7'"},
                     "strokeDash": {"signal": "datum.value === 'True function' ? [5.5, 2.4] : [1, 0]"},
                     "strokeWidth": {"value": 1.8}, "opacity": {"value": 1}}}}}}}},
            {"data": {"name": "trueRate"}, "mark": {"type": "line", "strokeWidth": 1.8, "strokeDash": [5.5, 2.4], "interpolate": "monotone"},
             "encoding": {"y": {"field": "v", "type": "quantitative", "title": "Rate (pmol / week)"}, "color": {"datum": "True function"}}}
          ]
        },
        {
          "width": 431, "height": 230,
          "title": {"text": "Sparse sampling, no noise - Concentration", "anchor": "middle", "frame": "group", "offset": -6},
          "encoding": {"x": {"field": "t", "type": "quantitative", "scale": {"domain": [0, 12], "nice": false}, "axis": {"values": [0, 2, 4, 6, 8, 10, 12], "labels": false, "title": null}}},
          "layer": [
            {"data": {"name": "conc3"}, "mark": {"type": "area", "color": "#009E73", "opacity": 0.3, "interpolate": "monotone"},
             "encoding": {"y": {"field": "lo", "type": "quantitative", "title": "Conc. (pmol / L)", "scale": {"domain": [0, 40], "nice": false}, "axis": {"values": [0, 10, 20, 30, 40]}}, "y2": {"field": "hi"}}},
            {"data": {"name": "conc3"}, "mark": {"type": "line", "strokeWidth": 1.8, "interpolate": "monotone"},
             "encoding": {"y": {"field": "mean", "type": "quantitative", "title": "Conc. (pmol / L)"},
               "color": {"datum": "Mean prediction", "scale": {"domain": ["Mean prediction", "Measurements", "True function"], "range": ["#009E73", "#D55E00", "#000000"]},
                 "legend": {"title": null, "orient": "none", "legendX": 117, "legendY": 137, "symbolSize": 100, "labelOffset": 37,
                   "encode": {"symbols": {"update": {
                     "shape": {"signal": "datum.value === 'Measurements' ? 'M1.8,0A0.7,0.7 0 1,1 3.2,0A0.7,0.7 0 1,1 1.8,0Z' : 'M-1.2,0L6.2,0'"},
                     "size": {"value": 100},
                     "fill": {"signal": "datum.value === 'Measurements' ? '#D55E00' : 'transparent'"},
                     "stroke": {"signal": "datum.value === 'Mean prediction' ? '#009E73' : datum.value === 'True function' ? '#000000' : 'transparent'"},
                     "strokeDash": {"signal": "datum.value === 'True function' ? [5.5, 2.4] : [1, 0]"},
                     "strokeWidth": {"value": 1.8}, "opacity": {"value": 1}}}}}}}},
            {"data": {"name": "sparse"}, "mark": {"type": "point", "filled": true, "size": 40, "opacity": 1},
             "encoding": {"y": {"field": "clean", "type": "quantitative", "title": "Conc. (pmol / L)"}, "color": {"datum": "Measurements"}}},
            {"data": {"name": "dense"}, "mark": {"type": "line", "strokeWidth": 1.8, "strokeDash": [5.5, 2.4], "interpolate": "monotone"},
             "encoding": {"y": {"field": "truth", "type": "quantitative", "title": "Conc. (pmol / L)"}, "color": {"datum": "True function"}}}
          ]
        },
        {
          "width": 431, "height": 230,
          "title": {"text": "Sparse sampling, 10% noise - Absorption rate", "anchor": "middle", "frame": "group", "offset": -6},
          "encoding": {"x": {"field": "t", "type": "quantitative", "scale": {"domain": [0, 12], "nice": false}, "axis": {"values": [0, 2, 4, 6, 8, 10, 12], "title": "Time (weeks)", "labelFlush": false, "labelPadding": 4, "titlePadding": 6}}},
          "layer": [
            {"data": {"name": "rate4"}, "mark": {"type": "area", "color": "#0072B2", "opacity": 0.3, "interpolate": "monotone"},
             "encoding": {"y": {"field": "lo", "type": "quantitative", "title": "Rate (pmol / week)", "scale": {"domain": [0, 800], "nice": false}, "axis": {"values": [0, 200, 400, 600, 800]}}, "y2": {"field": "hi"}}},
            {"data": {"name": "rate4"}, "mark": {"type": "line", "strokeWidth": 1.8, "interpolate": "monotone"},
             "encoding": {"y": {"field": "mean", "type": "quantitative", "title": "Rate (pmol / week)"},
               "color": {"datum": "Mean prediction", "scale": {"domain": ["Mean prediction", "True function"], "range": ["#0072B2", "#CC79A7"]},
                 "legend": {"title": null, "orient": "none", "legendX": 117, "legendY": 165, "symbolSize": 100, "labelOffset": 37,
                   "encode": {"symbols": {"update": {"shape": {"value": "M-1.2,0L6.2,0"}, "size": {"value": 100}, "fill": {"value": "transparent"},
                     "stroke": {"signal": "datum.value === 'Mean prediction' ? '#0072B2' : '#CC79A7'"},
                     "strokeDash": {"signal": "datum.value === 'True function' ? [5.5, 2.4] : [1, 0]"},
                     "strokeWidth": {"value": 1.8}, "opacity": {"value": 1}}}}}}}},
            {"data": {"name": "trueRate"}, "mark": {"type": "line", "strokeWidth": 1.8, "strokeDash": [5.5, 2.4], "interpolate": "monotone"},
             "encoding": {"y": {"field": "v", "type": "quantitative", "title": "Rate (pmol / week)"}, "color": {"datum": "True function"}}}
          ]
        },
        {
          "width": 431, "height": 230,
          "title": {"text": "Sparse sampling, 10% noise - Concentration", "anchor": "middle", "frame": "group", "offset": -6},
          "encoding": {"x": {"field": "t", "type": "quantitative", "scale": {"domain": [0, 12], "nice": false}, "axis": {"values": [0, 2, 4, 6, 8, 10, 12], "title": "Time (weeks)", "labelFlush": false, "labelPadding": 4, "titlePadding": 6}}},
          "layer": [
            {"data": {"name": "conc4"}, "mark": {"type": "area", "color": "#009E73", "opacity": 0.3, "interpolate": "monotone"},
             "encoding": {"y": {"field": "lo", "type": "quantitative", "title": "Conc. (pmol / L)", "scale": {"domain": [0, 40], "nice": false}, "axis": {"values": [0, 10, 20, 30, 40]}}, "y2": {"field": "hi"}}},
            {"data": {"name": "conc4"}, "mark": {"type": "line", "strokeWidth": 1.8, "interpolate": "monotone"},
             "encoding": {"y": {"field": "mean", "type": "quantitative", "title": "Conc. (pmol / L)"},
               "color": {"datum": "Mean prediction", "scale": {"domain": ["Mean prediction", "Measurements", "True function"], "range": ["#009E73", "#D55E00", "#000000"]},
                 "legend": {"title": null, "orient": "none", "legendX": 117, "legendY": 137, "symbolSize": 100, "labelOffset": 37,
                   "encode": {"symbols": {"update": {
                     "shape": {"signal": "datum.value === 'Measurements' ? 'M1.8,0A0.7,0.7 0 1,1 3.2,0A0.7,0.7 0 1,1 1.8,0Z' : 'M-1.2,0L6.2,0'"},
                     "size": {"value": 100},
                     "fill": {"signal": "datum.value === 'Measurements' ? '#D55E00' : 'transparent'"},
                     "stroke": {"signal": "datum.value === 'Mean prediction' ? '#009E73' : datum.value === 'True function' ? '#000000' : 'transparent'"},
                     "strokeDash": {"signal": "datum.value === 'True function' ? [5.5, 2.4] : [1, 0]"},
                     "strokeWidth": {"value": 1.8}, "opacity": {"value": 1}}}}}}}},
            {"data": {"name": "sparse"}, "mark": {"type": "point", "filled": true, "size": 40, "opacity": 1},
             "encoding": {"y": {"field": "noisy", "type": "quantitative", "title": "Conc. (pmol / L)"}, "color": {"datum": "Measurements"}}},
            {"data": {"name": "dense"}, "mark": {"type": "line", "strokeWidth": 1.8, "strokeDash": [5.5, 2.4], "interpolate": "monotone"},
             "encoding": {"y": {"field": "truth", "type": "quantitative", "title": "Conc. (pmol / L)"}, "color": {"datum": "True function"}}}
          ]
        }
      ]
    },
    {
      "width": 1251, "height": 75,
      "view": {"stroke": null},
      "data": {"values": [
        {"line": 0, "kind": "bold", "text": "FIGURE 4 | Estimation results for the synthetic data"},
        {"line": 0, "kind": "after", "text": ". Solid lines are mean predictions, while shaded areas are 95% credible intervals. It can be seen that the"},
        {"line": 1, "kind": "plain", "text": "sizes of the credible intervals are affected strongly by the sparsity of the data, while noise has a considerably smaller effect. In all cases, the credible intervals mostly"},
        {"line": 2, "kind": "plain", "text": "cover the true functions."}
      ]},
      "encoding": {
        "x": {"datum": 0, "type": "quantitative", "scale": {"domain": [0, 1]}, "axis": null},
        "y": {"field": "line", "type": "ordinal", "axis": null},
        "text": {"field": "text"}
      },
      "layer": [
        {"transform": [{"filter": "datum.kind === 'bold'"}], "mark": {"type": "text", "align": "left", "baseline": "middle", "fontSize": 18.4, "fontWeight": "bold", "dx": -60, "color": "#1a1a1a"}},
        {"transform": [{"filter": "datum.kind === 'after'"}], "mark": {"type": "text", "align": "left", "baseline": "middle", "fontSize": 17.9, "dx": 391, "color": "#1a1a1a"}},
        {"transform": [{"filter": "datum.kind === 'plain'"}], "mark": {"type": "text", "align": "left", "baseline": "middle", "fontSize": 17.9, "dx": -60, "color": "#1a1a1a"}}
      ]
    }
  ],
  "spacing": 23,
  "center": true,
  "config": {
    "font": "Liberation Sans",
    "view": {"stroke": "#cccccc", "strokeWidth": 1.5},
    "axis": {"grid": true, "gridColor": "#dcdcdc", "gridWidth": 1, "domain": false, "ticks": false, "labelFontSize": 18, "labelColor": "#262626", "titleFontSize": 20, "titleFontWeight": "normal", "titleColor": "#262626", "labelPadding": 6, "titlePadding": 6},
    "title": {"fontSize": 22, "fontWeight": "normal", "color": "#262626"},
    "legend": {"labelFontSize": 18, "labelColor": "#262626", "fillColor": "rgba(255,255,255,0.8)", "strokeColor": "#e8e8e8", "padding": 6, "cornerRadius": 3, "rowPadding": 7, "labelLimit": 300}
  }
}
